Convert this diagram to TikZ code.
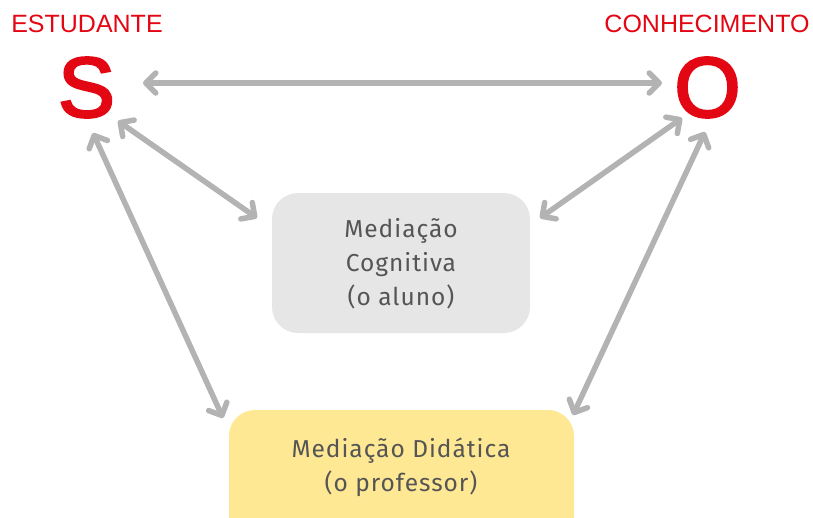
\documentclass[tikz,border=0pt]{standalone}
\usepackage{fontspec}
\setmainfont[LetterSpace=4]{Fira Sans}
\newfontfamily\labfont{Liberation Sans}
\newfontfamily\bigfont[FakeBold=3]{Liberation Sans}
\usetikzlibrary{arrows.meta}
\definecolor{redc}{HTML}{E30613}
\definecolor{arrgray}{HTML}{B3B3B3}
\definecolor{boxgray}{HTML}{E6E6E6}
\definecolor{boxyellow}{HTML}{FFE894}
\definecolor{txtgray}{HTML}{555555}
\tikzset{
  tip/.tip={Straight Barb[length=10pt,width=20pt,line join=round,line cap=round]},
  arr/.style={draw=arrgray, line width=5.5pt, line cap=round, tip-tip},
  redlab/.style={text=redc, font=\labfont\fontsize{25}{30}\selectfont, inner sep=0pt},
  bigletter/.style={text=redc, font=\bigfont\fontsize{85}{90}\selectfont, inner sep=0pt},
  boxtext/.style={text=txtgray, font=\fontsize{24.5}{34}\selectfont, align=center, inner sep=0pt},
}
\begin{document}
\begin{tikzpicture}[x=1pt,y=-1pt]
\useasboundingbox (0,0) rectangle (813,517);
\clip (0,0) rectangle (813,517);
% boxes
\fill[boxgray, rounded corners=26pt] (272,193) rectangle (530,333);
\fill[boxyellow, rounded corners=26pt] (229,410) rectangle (574,560);
\node[boxtext] (cog) at (401,264) {Mediação\\Cognitiva\\(o aluno)};
\node[boxtext] (did) at (401,467) {Mediação Didática\\(o professor)};
% labels
\node[redlab] (est) at (87,24) {ESTUDANTE};
\node[redlab] (con) at (707,24) {CONHECIMENTO};
\node[bigletter] (S) at (86.5,87.5) {S};
\node[bigletter] (O) at (707.5,87.5) {O};
% arrow ends
\coordinate (sO) at (143,83);
\coordinate (oS) at (662,83);
\coordinate (sC) at (118,121);
\coordinate (cS) at (257,218);
\coordinate (oC) at (682,118);
\coordinate (cO) at (540,218);
\coordinate (sD) at (93,133);
\coordinate (dS) at (223,418);
\coordinate (oD) at (705,132);
\coordinate (dO) at (573,415);
\draw[arr] (sO) -- (oS);
\draw[arr] (sC) -- (cS);
\draw[arr] (oC) -- (cO);
\draw[arr] (sD) -- (dS);
\draw[arr] (oD) -- (dO);
\end{tikzpicture}
\end{document}
